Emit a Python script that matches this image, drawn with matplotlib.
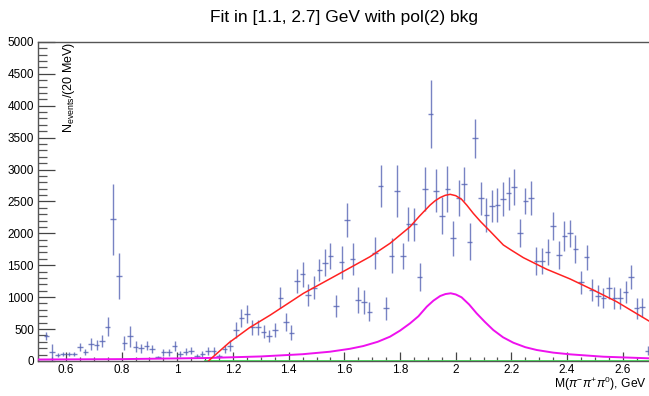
import numpy as np
import matplotlib
matplotlib.use("Agg")
import matplotlib.pyplot as plt
from matplotlib.ticker import MultipleLocator

plt.rcParams['font.family'] = ['Liberation Sans', 'DejaVu Sans']
plt.rcParams['mathtext.fontset'] = 'custom'
plt.rcParams['mathtext.rm'] = 'Liberation Sans'
plt.rcParams['mathtext.it'] = 'Liberation Sans:italic'

# histogram: 20 MeV bins from 0.5 to 2.7 GeV
bin_lo = 0.5
bin_w = 0.02
counts = [0, 390, 144, 92, 108, 108, 108, 223, 140, 265,
          249, 307, 536, 2219, 1335, 276, 390, 223, 197, 238,
          187, 61, 135, 135, 238, 108, 144, 160, 77, 103,
          160, 160, 82, 187, 238, 484, 668, 735, 527, 527,
          458, 390, 484, 991, 614, 442, 1252, 1362, 1033, 1147,
          1425, 1539, 1644, 866, 1545, 2208, 1597, 955, 918, 771,
          1696, 2741, 824, 1649, 2668, 1649, 2141, 2141, 1310, 2689,
          3870, 2668, 2276, 2694, 1921, 2558, 2773, 1869, 3489, 2548,
          2287, 2433, 2444, 2538, 2627, 2731, 2010, 2506, 2558, 1566,
          1566, 1702, 2119, 1660, 1958, 2000, 1754, 1232, 1624, 1111,
          1022, 991, 1138, 991, 981, 1085, 1320, 824, 840, 160]
errors = [0, 63, 125, 30, 30, 30, 30, 63, 47, 94,
          78, 94, 146, 560, 358, 110, 165, 84, 73, 70,
          60, 20, 55, 55, 78, 47, 55, 57, 31, 47,
          65, 65, 31, 65, 84, 122, 143, 136, 117, 117,
          104, 99, 104, 165, 143, 117, 188, 196, 172, 178,
          175, 214, 209, 170, 261, 269, 256, 209, 188, 152,
          253, 334, 178, 274, 410, 201, 269, 256, 222, 347,
          528, 334, 287, 363, 269, 282, 272, 287, 308, 261,
          269, 253, 261, 261, 261, 282, 217, 209, 266, 217,
          204, 204, 219, 222, 230, 209, 217, 183, 198, 175,
          167, 157, 172, 170, 162, 172, 191, 165, 152, 70]

# total fit (red), signal (magenta), background (green)
fit_m = [1.112, 1.187, 1.259, 1.334, 1.453, 1.573, 1.692, 1.764, 1.836, 1.870,
         1.908, 1.926, 1.944, 1.962, 1.980, 2.000, 2.021, 2.040, 2.063, 2.090,
         2.124, 2.171, 2.200, 2.243, 2.327, 2.411, 2.494, 2.578, 2.70]
fit_v = [0, 290, 520, 719, 1059, 1346, 1633, 1843, 2103, 2270,
         2443, 2510, 2560, 2595, 2611, 2590, 2533, 2440, 2313, 2180,
         2030, 1817, 1735, 1618, 1436, 1284, 1111, 928, 610]
sig_m = [0.5, 0.8, 1.1, 1.3, 1.45, 1.548, 1.62, 1.668, 1.72, 1.764, 1.80, 1.836,
         1.866, 1.896, 1.920, 1.944, 1.963, 1.982, 2.000, 2.021, 2.048, 2.075,
         2.105, 2.135, 2.170, 2.207, 2.250, 2.291, 2.350, 2.411, 2.530, 2.70]
sig_v = [22, 28, 45, 70, 105, 144, 190, 233, 300, 380, 475, 589,
         700, 850, 945, 1017, 1048, 1060, 1042, 997, 885, 746,
         610, 484, 370, 285, 215, 171, 130, 103, 66, 40]
bkg_m = [1.1, 2.7]
bkg_v = [0, 0]

counts = np.array(counts, dtype=float)
errors = np.array(errors, dtype=float)
centers = bin_lo + bin_w * (np.arange(len(counts)) + 0.5)
filled = counts > 0

fig = plt.figure(figsize=(6.49, 3.96), dpi=100)
ax = fig.add_axes([0.0587, 0.0886, 0.9438, 0.8056])

ax.errorbar(centers[filled], counts[filled], xerr=bin_w / 2, yerr=errors[filled],
            fmt='none', ecolor='#5664b4', elinewidth=1.0, alpha=0.8, zorder=3)

ax.plot(bkg_m, bkg_v, color='#44cc55', lw=2.0, zorder=4)
ax.plot(sig_m, sig_v, color='#ee11ee', lw=1.4, zorder=5)
ax.plot(fit_m, fit_v, color='#ff2222', lw=1.1, zorder=6)

ax.set_xlim(0.5, 2.7)
ax.set_ylim(0, 5000)

ax.xaxis.set_major_locator(MultipleLocator(0.2))
ax.xaxis.set_minor_locator(MultipleLocator(0.05))
ax.yaxis.set_major_locator(MultipleLocator(500))
ax.yaxis.set_minor_locator(MultipleLocator(100))
ax.set_xticks([0.6, 0.8, 1.0, 1.2, 1.4, 1.6, 1.8, 2.0, 2.2, 2.4, 2.6])
ax.set_xticklabels(['0.6', '0.8', '1', '1.2', '1.4', '1.6', '1.8', '2', '2.2', '2.4', '2.6'])

ax.tick_params(axis='y', which='major', direction='in', length=12, width=0.9,
               color='#444444', labelsize=8.5, pad=3)
ax.tick_params(axis='y', which='minor', direction='in', length=6.5, width=0.9, color='#555555')
ax.tick_params(axis='x', which='major', direction='in', length=6.5, width=0.9,
               color='#444444', labelsize=8.5, pad=2.5)
ax.tick_params(axis='x', which='minor', direction='in', length=3.2, width=0.9, color='#555555')

for side in ['left', 'bottom', 'top']:
    ax.spines[side].set_color('#555555')
    ax.spines[side].set_linewidth(1.0)
ax.spines['right'].set_visible(False)

ax.text(0.038, 1.0, r'N$_{\mathrm{events}}$/(20 MeV)', transform=ax.transAxes,
        rotation=90, ha='left', va='top', fontsize=9)
fig.text(0.997, 0.019, r'M($\pi^{-}\pi^{+}\pi^{0}$), GeV', ha='right', va='baseline',
         fontsize=8.7)
fig.text(0.53, 0.957, 'Fit in [1.1, 2.7] GeV with pol(2) bkg', ha='center', va='center',
         fontsize=12.5)

fig.savefig('out.png', dpi=100)
